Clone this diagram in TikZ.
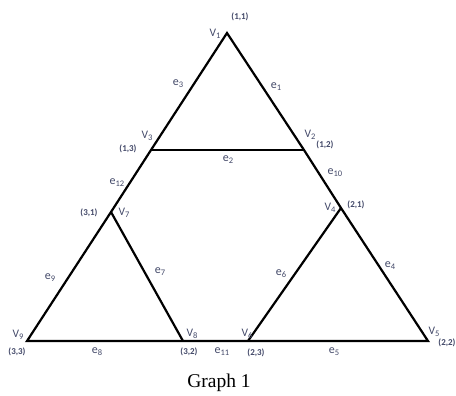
\documentclass[tikz,border=0pt]{standalone}
\usepackage{fontspec}
\setmainfont{Carlito}
\newfontfamily\capfont{Liberation Serif}
\definecolor{labc}{RGB}{66,72,104}
\newcommand\vsub[2]{#1\raisebox{-0.35ex}{\fontsize{8.5}{8.5}\selectfont #2}}
\tikzset{
  edge/.style={line width=2.2pt, draw=black},
  vlbl/.style={text=labc, font=\fontsize{11.5}{11.5}\selectfont, inner sep=0pt},
  elbl/.style={text=labc, font=\fontsize{12}{12}\selectfont, inner sep=0pt},
  pair/.style={text=labc, font=\fontsize{9}{9}\selectfont\bfseries, inner sep=0pt},
  captxt/.style={font=\capfont\fontsize{19.5}{19.5}\selectfont, inner sep=0pt}
}
\begin{document}
\begin{tikzpicture}[x=1pt,y=-1pt]
\useasboundingbox (0,0) rectangle (456,396);
% vertices
\coordinate (v1) at (227,33);
\coordinate (v3) at (151,150);
\coordinate (v2) at (304,150);
\coordinate (v7) at (111,212);
\coordinate (v4) at (341,208);
\coordinate (v9) at (27,341);
\coordinate (v8) at (183,341);
\coordinate (v6) at (248,341);
\coordinate (v5) at (428,341);
% edges
\draw[edge] (v9) -- (v7) -- (v3) -- (v1) -- (v2) -- (v4) -- (v5) -- (v6) -- (v8) -- cycle;
\draw[edge] (v3) -- (v2);
\draw[edge] (v7) -- (v8);
\draw[edge] (v6) -- (v4);
% vertex labels
\node[vlbl] (l1) at (215,34) {\vsub{V}{1}};
\node[pair] (p1) at (240,17) {(1,1)};
\node[vlbl] (l3) at (147,136) {\vsub{V}{3}};
\node[pair] (p3) at (128,149) {(1,3)};
\node[vlbl] (l2) at (310,135) {\vsub{V}{2}};
\node[pair] (p2) at (325,145) {(1,2)};
\node[vlbl] (l7) at (124,213) {\vsub{V}{7}};
\node[pair] (p7) at (89,213) {(3,1)};
\node[vlbl] (l4) at (330,208) {\vsub{V}{4}};
\node[pair] (p4) at (356,205) {(2,1)};
\node[vlbl] (l9) at (18,335) {\vsub{V}{9}};
\node[pair] (p9) at (17,352) {(3,3)};
\node[vlbl] (l8) at (192,334) {\vsub{V}{8}};
\node[pair] (p8) at (189,352) {(3,2)};
\node[vlbl] (l6) at (247,334) {\vsub{V}{6}};
\node[pair] (p6) at (256,353) {(2,3)};
\node[vlbl] (l5) at (434,332) {\vsub{V}{5}};
\node[pair] (p5) at (447,343) {(2,2)};
% edge labels
\node[elbl] (e3) at (178,84) {\vsub{e}{3}};
\node[elbl] (e1) at (276,87) {\vsub{e}{1}};
\node[elbl] (e2) at (228,160) {\vsub{e}{2}};
\node[elbl] (e12) at (117,183) {\vsub{e}{12}};
\node[elbl] (e10) at (335,173) {\vsub{e}{10}};
\node[elbl] (e9) at (50,278) {\vsub{e}{9}};
\node[elbl] (e7) at (160,272) {\vsub{e}{7}};
\node[elbl] (e6) at (281,274) {\vsub{e}{6}};
\node[elbl] (e4) at (390,266) {\vsub{e}{4}};
\node[elbl] (e8) at (97,352) {\vsub{e}{8}};
\node[elbl] (e11) at (222,352) {\vsub{e}{11}};
\node[elbl] (e5) at (334,352) {\vsub{e}{5}};
% caption
\node[captxt] (caption) at (219,383) {Graph 1};
\end{tikzpicture}
\end{document}
